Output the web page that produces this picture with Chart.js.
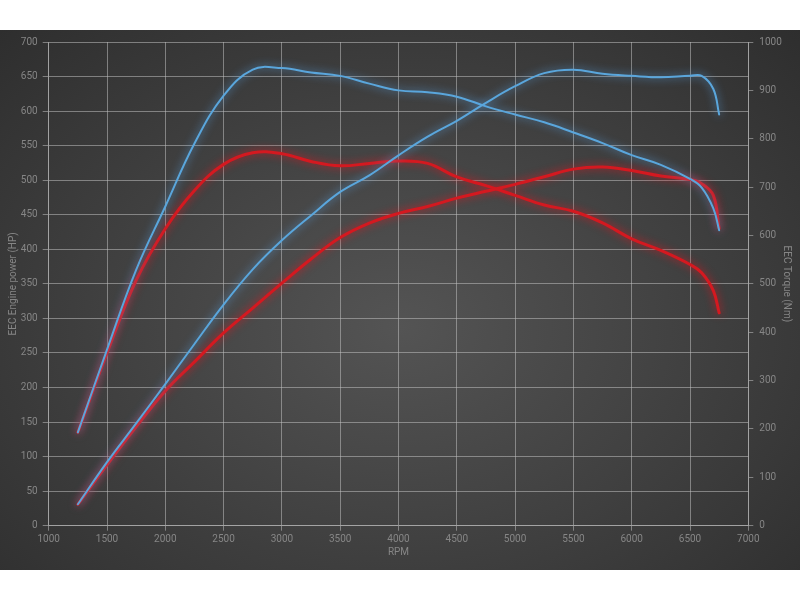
<!DOCTYPE html>
<html>
<head>
<meta charset="utf-8">
<script src="https://cdn.jsdelivr.net/npm/chart.js"></script>
<style>
html, body { margin: 0; padding: 0; background: #fff; }
#wrap {
	position: absolute; left: 0; top: 30px; width: 800px; height: 540px;
	background: radial-gradient(ellipse at 50% 55%, #545454 0%, #434343 45%, #2e2e2e 100%);
}
</style>
</head>
<body>
<div id="wrap"><canvas id="c"></canvas></div>
<script>
// RPM points
const rpm = [1250, 1500, 1750, 2000, 2250, 2500, 2750, 3000, 3250, 3500, 3750, 4000, 4250,
	4500, 4750, 5000, 5250, 5500, 5750, 6000, 6250, 6500, 6600, 6700, 6750];

// power (HP), left axis
const powerBlue = [31, 92, 148, 205, 263, 320, 371, 413, 449, 483, 507, 536, 563,
	586, 612, 636, 655, 660, 654, 651, 649, 651, 651, 632, 595];
const powerRed = [31, 88, 143, 195, 237, 279, 315, 351, 386, 417, 438, 452, 462,
	474, 484, 494, 505, 516, 519, 514, 506, 501, 495, 478, 430];

// torque (Nm), right axis
const torqueBlue = [193, 364, 529, 660, 790, 889, 943, 946, 937, 930, 914, 900, 896,
	887, 867, 850, 834, 813, 791, 766, 746, 717, 699, 656, 611];
const torqueRed = [193, 357, 507, 614, 693, 747, 771, 769, 753, 744, 749, 754, 749,
	721, 703, 683, 663, 650, 626, 593, 569, 540, 523, 486, 440];

const BLUE = '#5aa6dc';
const RED = '#d41920';
const TXT = '#868686';
const GRID = 'rgba(190,190,190,0.55)';

function pts(ys){
	return rpm.map((x, i) => ({x: x, y: ys[i]}));
}

// glow behind the lines
const glow = {
	id: 'glow',
	beforeDatasetDraw(chart, args){
		const ds = chart.data.datasets[args.index];
		chart.ctx.save();
		chart.ctx.shadowColor = ds.glowColor;
		chart.ctx.shadowBlur = 8;
	},
	afterDatasetDraw(chart){
		chart.ctx.restore();
	}
};

function line(data, color, glowColor, width, axis){
	return {
		data: pts(data),
		borderColor: color,
		glowColor: glowColor,
		borderWidth: width,
		borderCapStyle: 'round',
		borderJoinStyle: 'round',
		pointRadius: 0,
		tension: 0.4,
		yAxisID: axis,
		fill: false
	};
}

const plain = v => String(v);

new Chart(document.getElementById('c'), {
	type: 'line',
	data: {
		datasets: [
			line(powerBlue, BLUE, 'rgba(90,170,240,0.9)', 2, 'y'),
			line(torqueBlue, BLUE, 'rgba(90,170,240,0.9)', 2, 'y1'),
			line(powerRed, RED, 'rgba(230,20,30,0.9)', 3, 'y'),
			line(torqueRed, RED, 'rgba(230,20,30,0.9)', 3, 'y1')
		]
	},
	options: {
		responsive: true,
		maintainAspectRatio: false,
		animation: false,
		layout: {padding: {top: 9, left: 0, right: 0, bottom: 0}},
		plugins: {legend: {display: false}, tooltip: {enabled: false}},
		scales: {
			x: {
				type: 'linear', min: 1000, max: 7000,
				ticks: {stepSize: 500, color: TXT, font: {family: 'Roboto', size: 10}, padding: 3, callback: plain},
				grid: {color: GRID, tickLength: 5},
				border: {color: GRID},
				title: {display: true, text: 'RPM', color: TXT, font: {family: 'Roboto', size: 10}, padding: {top: 0, bottom: 12}},
				afterFit(s){ s.height = 44.3; }
			},
			y: {
				position: 'left', min: 0, max: 700,
				ticks: {stepSize: 50, color: TXT, font: {family: 'Roboto', size: 10}, padding: 5, callback: plain},
				grid: {color: GRID, tickLength: 6},
				border: {color: GRID},
				title: {display: true, text: 'EEC Engine power (HP)', color: TXT, font: {family: 'Roboto', size: 10}, padding: {top: 7, bottom: 0}},
				afterFit(s){ s.width = 48.7; }
			},
			y1: {
				position: 'right', min: 0, max: 1000,
				ticks: {stepSize: 100, color: TXT, font: {family: 'Roboto', size: 10}, padding: 6, callback: plain},
				grid: {drawOnChartArea: false, color: GRID, tickLength: 5},
				border: {color: GRID},
				title: {display: true, text: 'EEC Torque (Nm)', color: TXT, font: {family: 'Roboto', size: 10}, padding: {top: 8, bottom: 0}},
				afterFit(s){ s.width = 51.7; }
			}
		}
	},
	plugins: [glow]
});
</script>
</body>
</html>
